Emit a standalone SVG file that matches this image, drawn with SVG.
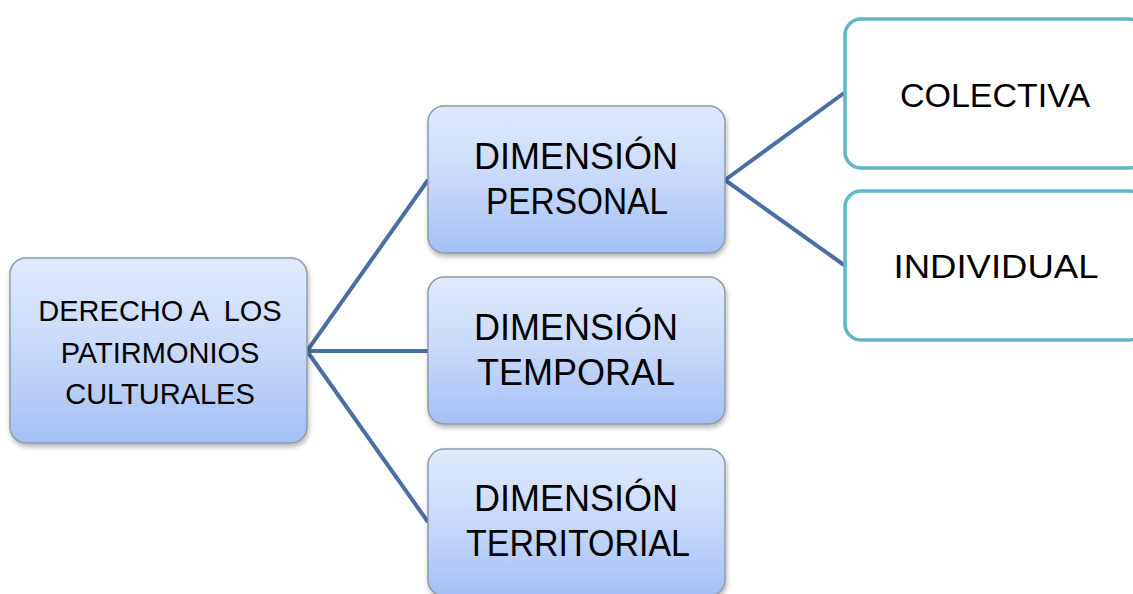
<svg xmlns="http://www.w3.org/2000/svg" width="1133" height="594" viewBox="0 0 1133 594">
<defs>
<linearGradient id="g" x1="0" y1="0" x2="0" y2="1">
<stop offset="0" stop-color="#e0eafc"/>
<stop offset="0.5" stop-color="#c7d9fa"/>
<stop offset="1" stop-color="#a3c0f4"/>
</linearGradient>
<filter id="sh" x="-10%" y="-10%" width="130%" height="130%">
<feDropShadow dx="1" dy="3" stdDeviation="2.5" flood-color="#000" flood-opacity="0.3"/>
</filter>
</defs>
<style>
.b{fill:url(#g);stroke:#8f9aa8;stroke-width:1.5;filter:url(#sh)}
.w{fill:#fff;stroke:#62b5ca;stroke-width:3.5}
.t{font-family:"Liberation Sans",Arial,sans-serif;fill:#000;text-anchor:middle;white-space:pre}
.c{stroke:#4a6fa5;stroke-width:4;fill:none}
</style>
<rect width="1133" height="594" fill="#fff"/>
<g id="connectors">
<line class="c" x1="307" y1="351" x2="428" y2="180"/>
<line class="c" x1="307" y1="351" x2="428" y2="351"/>
<line class="c" x1="307" y1="351" x2="428" y2="522"/>
<line class="c" x1="725" y1="180" x2="844" y2="93"/>
<line class="c" x1="725" y1="180" x2="844" y2="265"/>
</g>
<g id="root">
<rect class="b" x="10" y="258" width="297" height="185" rx="16"/>
<text class="t" font-size="29" xml:space="preserve"><tspan x="160" y="321">DERECHO A  LOS</tspan><tspan x="160" y="363">PATIRMONIOS</tspan><tspan x="160" y="404">CULTURALES</tspan></text>
</g>
<g id="personal">
<rect class="b" x="428" y="106" width="297" height="147" rx="16"/>
<text class="t" font-size="36"><tspan x="576" y="169">DIMENSIÓN</tspan><tspan x="577" y="214" textLength="182" lengthAdjust="spacingAndGlyphs">PERSONAL</tspan></text>
</g>
<g id="temporal">
<rect class="b" x="428" y="277" width="297" height="147" rx="16"/>
<text class="t" font-size="36"><tspan x="576" y="340">DIMENSIÓN</tspan><tspan x="576" y="385">TEMPORAL</tspan></text>
</g>
<g id="territorial">
<rect class="b" x="428" y="449" width="297" height="147" rx="16"/>
<text class="t" font-size="36"><tspan x="576" y="511">DIMENSIÓN</tspan><tspan x="578" y="556" textLength="224" lengthAdjust="spacingAndGlyphs">TERRITORIAL</tspan></text>
</g>
<g id="colectiva">
<rect class="w" x="845" y="19" width="300" height="149" rx="16"/>
<text class="t" font-size="34" x="995" y="107">COLECTIVA</text>
</g>
<g id="individual">
<rect class="w" x="845" y="191" width="300" height="149" rx="16"/>
<text class="t" font-size="34" x="996" y="278" textLength="205" lengthAdjust="spacingAndGlyphs">INDIVIDUAL</text>
</g>
</svg>
